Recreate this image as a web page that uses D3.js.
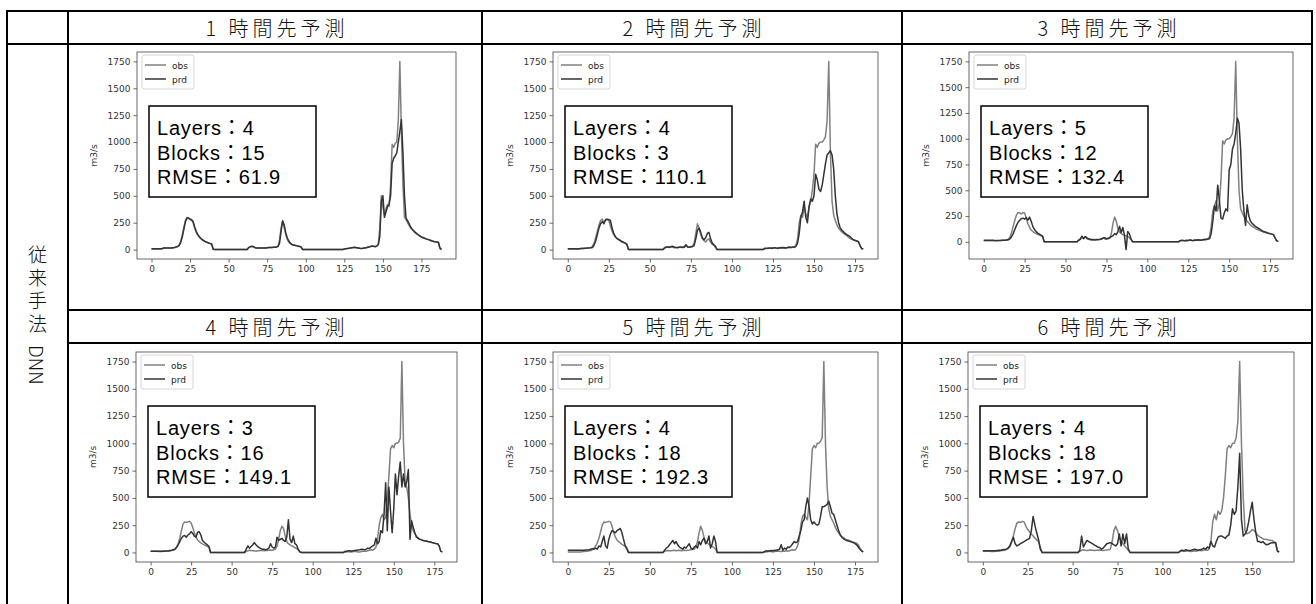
<!DOCTYPE html>
<html>
<head>
<meta charset="utf-8">
<script src="https://cdn.jsdelivr.net/npm/d3@7"></script>
<style>
  body { margin: 0; background: #fff; }
</style>
</head>
<body>
<script>
// ---------------- data ----------------
const titles = ["1 時間先予測", "2 時間先予測", "3 時間先予測", "4 時間先予測", "5 時間先予測", "6 時間先予測"];
const rowLabelJa = "従来手法";
const rowLabelEn = "DNN";
const layers = [4, 4, 5, 3, 4, 4];
const blocks = [15, 3, 12, 16, 18, 18];
const rmse = ["61.9", "110.1", "132.4", "149.1", "192.3", "197.0"];
const seriesNames = ["obs", "prd"];
const xTicks = [0, 25, 50, 75, 100, 125, 150, 175];
const yTicks = [0, 250, 500, 750, 1000, 1250, 1500, 1750];
const yLabel = "m3/s";

// lead 1h (x = 0..188)
const obs1 = [5,5,5,5,5,5,5,8, 15,15,15,15,15,15,18,20,25,
  30,45,80,140,210,270,300,290,285,280,250,200,160,135,115,100,90,80,72,66,60,56,50,
  0,0,0,0,0,0,0,0,0,0,0,0,0,0,0,0,0,0,0,0,0,0,0,
  20,28,30,25,18, 15,15,15,15,15,15,15,18,20,20,20,22,22,25,30,
  90,200,270,210,140,95,70,55,45,40,38,35,30,28,20,
  0,0,0,0,0,0,0,0,0,0,0,0,0,0,0,0,0,0,0,0,0,0,0,0,0,0,0,
  5,8,10,12,15,18,20,22,18,15,12,10,12,15,18,20,25,30,35,30,25,
  30,50,200,500,400,320,380,420,400,600,980,950,990,1000,1200,1750,1100,600,300,280,
  250,225,200,185,170,155,145,135,125,115,110,105,100,95,90,85,80,75,72,70,68,10,0];
const prd1 = [8,8,8,8,8,8,8,10, 15,15,15,15,15,15,18,20,25,
  28,40,70,120,190,260,290,295,280,275,260,210,170,140,120,105,92,82,74,68,62,58,52,
  5,0,0,0,0,0,0,0,0,0,0,0,0,0,0,0,0,0,0,0,0,0,0,
  18,25,30,28,20, 15,15,15,15,15,15,15,18,20,20,20,22,22,25,28,
  60,170,265,230,160,110,80,60,48,42,40,37,32,30,25,
  0,0,0,0,0,0,0,0,0,0,0,0,0,0,0,0,0,0,0,0,0,0,0,0,0,0,0,
  5,8,10,12,15,18,20,20,18,15,12,10,12,15,18,22,25,28,32,30,28,
  35,45,120,450,500,300,350,400,420,500,800,850,870,900,1000,1100,1210,900,500,290,
  270,240,210,190,175,160,148,138,128,118,112,106,100,95,90,85,80,76,72,70,66,15,2];

// lead 2h (x = 0..180)
const obs2 = [5,5,5,5,5,5,5,5,10,10,10,12,12,15,18,
  30,60,110,170,230,270,285,250,280,285,270,220,170,140,115,100,90,80,72,65,58,50,
  0,0,0,0,0,0,0,0,0,0,0,0,0,0,0,0,0,0,0,0,0,0,
  20,25,22,28,25,22,18,20,22,25,20,25,30,40,22,25,28,30,
  60,150,240,200,140,100,85,70,90,100,70,50,40,20,
  0,0,0,0,0,0,0,0,0,0,0,0,0,0,0,0,0,0,0,0,0,0,0,0,0,0,0,0,0,
  10,12,15,12,10,15,18,12,10,15,20,15,12,18,20,25,20,22,
  25,40,100,250,320,300,400,330,300,400,450,550,700,980,950,990,1000,1000,1020,1050,
  1200,1750,900,450,320,270,230,200,180,165,150,140,130,115,102,96,90,85,80,75,40,10,5];
const prd2 = [8,8,8,8,8,8,8,8,10,10,12,12,14,16,18,
  20,40,80,140,200,240,260,240,275,280,280,270,200,150,120,105,95,85,75,68,60,50,
  0,0,0,0,0,0,0,0,0,0,0,0,0,0,0,0,0,0,0,0,0,0,
  15,22,25,20,28,30,22,20,18,22,25,20,22,45,25,22,25,28,
  40,100,180,200,160,110,90,110,150,160,100,60,45,30,
  0,0,0,0,0,0,0,0,0,0,0,0,0,0,0,0,0,0,0,0,0,0,0,0,0,0,0,0,0,
  12,10,12,15,15,12,18,15,12,18,15,20,18,15,20,22,20,25,
  20,30,60,150,300,350,450,300,250,400,470,450,500,700,650,560,540,600,700,800,
  880,900,920,880,750,500,330,250,200,180,165,150,140,130,120,105,92,86,80,74,40,10,5];

// lead 3h (x = 0..180)
const obs3 = [10,10,10,10,10,10,10,10,10,12,12,14,15,16,18,
  25,45,90,150,210,260,285,280,270,285,280,230,175,140,115,100,90,80,72,65,58,50,
  0,0,0,0,0,0,0,0,0,0,0,0,0,0,0,0,0,0,0,0,0,
  20,30,45,35,50,30,25,20,22,20,22,25,20,22,25,40,28,25,30,35,
  80,180,240,200,130,95,80,70,65,60,50,40,20,
  0,0,0,0,0,0,0,0,0,0,0,0,0,0,0,0,0,0,0,0,0,0,0,0,0,0,0,0,0,
  10,12,15,12,10,15,18,12,10,15,20,15,12,18,20,25,20,30,
  50,150,300,350,400,300,380,600,980,950,990,1000,1000,1020,1050,1200,1750,1000,500,320,
  280,250,220,200,180,165,150,140,130,122,115,108,102,96,90,85,82,78,75,72,40,10,5];
const prd3 = [15,15,15,15,15,15,15,12,12,12,14,15,15,16,18,
  20,30,50,80,120,160,190,210,225,230,220,235,210,240,200,150,120,100,85,75,65,55,
  0,0,0,0,0,0,0,0,0,0,0,0,0,0,0,0,0,0,0,0,0,
  15,25,55,30,50,40,30,25,20,22,18,20,22,25,30,35,40,30,35,40,
  50,60,80,70,100,150,90,140,60,-75,100,80,30,
  0,0,0,0,0,0,0,0,0,0,0,0,0,0,0,0,0,0,0,0,0,0,0,0,0,0,0,0,0,
  12,15,12,10,15,12,18,15,12,18,15,20,18,15,22,20,25,28,
  30,80,200,350,300,550,400,230,220,280,320,300,700,750,900,950,1050,1200,1150,900,
  500,300,160,360,250,200,180,165,150,140,130,120,110,100,95,90,85,80,75,70,40,10,5];

// lead 4h (x = 0..180)
const obs4 = [10,10,10,10,10,8,8,8,10,10,12,12,15,18,22,
  30,50,80,130,200,260,280,275,280,285,270,230,180,140,115,100,88,78,70,62,55,50,
  0,0,0,0,0,0,0,0,0,0,0,0,0,0,0,0,0,0,0,0,0,0,
  10,15,20,18,15,15,12,15,15,18,20,15,20,18,20,22,20,25,30,
  60,120,200,240,220,150,100,80,70,60,55,45,35,25,10,
  0,0,0,0,0,0,0,0,0,0,0,0,0,0,0,0,0,0,0,0,0,0,0,0,0,0,0,
  5,5,8,5,5,8,10,8,5,5,8,10,12,10,15,20,25,20,30,
  50,120,250,320,350,300,320,500,700,950,980,960,1000,1000,1010,1050,1750,1000,650,600,
  500,350,250,200,170,150,135,125,118,112,108,104,100,96,92,88,85,82,80,60,10,5];
const prd4 = [12,12,12,12,12,12,12,12,12,14,14,15,18,20,25,
  30,45,70,100,130,150,155,140,160,170,190,175,150,140,185,190,160,110,95,80,70,55,
  0,0,0,0,0,0,0,0,0,0,0,0,0,0,0,0,0,0,0,0,0,0,
  30,60,40,55,70,90,70,55,45,35,30,30,25,30,40,80,50,40,50,
  140,110,120,130,110,100,140,300,120,90,150,80,70,30,5,
  0,0,0,0,0,0,0,0,0,0,0,0,0,0,0,0,0,0,0,0,0,0,0,0,0,0,0,
  10,12,15,15,12,15,18,20,22,25,30,28,25,30,40,35,50,60,70,
  130,80,100,200,180,350,640,200,600,380,180,400,720,530,700,830,600,720,600,650,
  760,120,290,230,180,140,130,120,115,110,108,105,100,98,95,90,85,82,80,60,10,5];

// lead 5h (x = 0..180)
const obs5 = [5,5,5,5,5,5,5,5,5,8,8,10,12,15,18,
  25,40,60,90,130,190,250,280,275,280,285,280,240,180,140,115,100,88,75,65,55,45,
  0,0,0,0,0,0,0,0,0,0,0,0,0,0,0,0,0,0,0,0,0,0,
  12,15,18,15,15,18,20,15,18,20,15,18,20,18,20,22,25,28,30,
  50,100,180,240,200,140,100,85,75,65,55,45,30,
  0,0,0,0,0,0,0,0,0,0,0,0,0,0,0,0,0,0,0,0,0,0,0,0,0,0,0,0,0,
  5,5,8,10,8,5,8,10,12,10,8,10,12,15,12,15,20,25,20,
  30,60,120,250,330,350,320,300,450,700,950,980,960,1000,1000,1020,1050,1750,1000,600,
  400,330,300,270,230,200,180,160,145,135,125,118,112,106,100,95,90,85,70,40,15,5];
const prd5 = [20,20,20,20,20,20,20,20,20,20,20,22,22,25,30,
  35,30,40,30,60,50,100,150,60,40,120,170,200,190,180,200,210,220,180,120,60,30,
  0,0,0,0,0,0,0,0,0,0,0,0,0,0,0,0,0,0,0,0,0,0,
  20,40,50,70,90,110,80,100,70,50,40,30,50,40,60,80,40,30,50,
  60,40,100,70,110,130,80,100,150,40,80,150,100,
  0,0,0,0,0,0,0,0,0,0,0,0,0,0,0,0,0,0,0,0,0,0,0,0,0,0,0,0,0,
  10,15,12,15,18,15,20,18,25,30,70,20,40,30,50,45,60,80,100,
  90,100,150,200,280,300,420,500,420,300,260,280,260,250,260,330,420,420,430,440,
  470,420,360,350,300,250,200,160,140,125,115,110,105,100,95,90,80,70,50,30,15,5];

// lead 6h (x = 0..165)
const obs6 = [10,10,10,10,10,8,8,10,10,12,15,18,20,
  25,35,50,90,150,220,270,280,275,285,280,240,210,190,170,150,130,115,100,50,
  0,0,0,0,0,0,0,0,0,0,0,0,0,0,0,0,0,0,0,0,0,
  10,20,25,20,18,20,22,20,18,20,20,22,20,18,20,22,25,30,
  100,200,240,200,140,100,80,60,40,20,
  0,0,0,0,0,0,0,0,0,0,0,0,0,0,0,0,0,0,0,0,0,0,0,0,0,0,0,0,
  10,15,12,10,15,10,8,12,15,12,18,20,15,22,25,20,30,
  100,280,350,300,380,350,380,500,700,950,980,960,1000,1000,1050,1200,1750,1000,500,200,
  170,180,190,210,200,180,160,145,135,125,120,118,115,112,110,100,90,20,5];
const prd6 = [15,15,15,15,15,15,15,15,18,20,20,25,28,
  30,40,60,100,140,80,60,70,80,90,100,110,120,130,200,330,250,180,120,30,
  0,0,0,0,0,0,0,0,0,0,0,0,0,0,0,0,0,0,0,0,0,
  20,150,50,80,110,100,90,80,70,60,50,45,30,40,60,80,85,90,
  80,70,60,80,170,60,170,80,170,30,
  0,0,0,0,0,0,0,0,0,0,0,0,0,0,0,0,0,0,0,0,0,0,0,0,0,0,0,0,
  15,20,15,25,20,18,20,25,30,25,20,25,30,40,30,50,40,
  100,60,50,100,140,150,150,140,130,150,160,250,400,350,380,600,910,300,150,170,
  200,280,380,460,300,180,100,100,90,100,80,70,75,85,90,88,90,10,3];

const obsData = [obs1, obs2, obs3, obs4, obs5, obs6];
const prdData = [prd1, prd2, prd3, prd4, prd5, prd6];

// ---------------- layout ----------------
const W = 1316, H = 604;
const colEdges = [7, 68, 482, 902, 1312];
const headRows = [[11, 44], [310, 343]];
// plot area of each panel: [left, right, top, bottom]
const axBox = [
  [137, 456, 52, 259], [553, 878, 52, 259], [969, 1293, 52, 259],
  [136, 457, 352, 562], [553, 878, 352, 562], [968, 1294, 352, 562]
];
const obsColor = "#808080", prdColor = "#333333";
const jp = "'Noto Sans CJK JP', sans-serif";
const mpl = "'DejaVu Sans', sans-serif";

const svg = d3.select("body").append("svg")
  .attr("width", W).attr("height", H)
  .style("display", "block");

svg.append("rect").attr("width", W).attr("height", H).attr("fill", "#fff");

/* ---------- panels ---------- */
function drawPanel(k) {
  const [x0, x1, y0, y1] = axBox[k];
  const obs = obsData[k], prd = prdData[k];
  const n = obs.length - 1;

  const x = d3.scaleLinear().domain([-0.05 * n, 1.05 * n]).range([x0, x1]);
  const lo = Math.min(d3.min(obs), d3.min(prd));
  const hi = Math.max(d3.max(obs), d3.max(prd));
  const pad = 0.05 * (hi - lo);
  const y = d3.scaleLinear().domain([lo - pad, hi + pad]).range([y1, y0]);

  const g = svg.append("g");
  const clipId = "clip" + k;
  g.append("clipPath").attr("id", clipId)
    .append("rect").attr("x", x0).attr("y", y0)
    .attr("width", x1 - x0).attr("height", y1 - y0);

  const line = d3.line().x((d, i) => x(i)).y(d => y(d));

  [[obs, obsColor], [prd, prdColor]].forEach(([s, c]) => {
    g.append("path").datum(s)
      .attr("d", line)
      .attr("fill", "none")
      .attr("stroke", c)
      .attr("stroke-width", 1.5)
      .attr("stroke-linejoin", "round")
      .attr("clip-path", `url(#${clipId})`);
  });

  g.append("rect")
    .attr("x", x0).attr("y", y0)
    .attr("width", x1 - x0).attr("height", y1 - y0)
    .attr("fill", "none").attr("stroke", "#444").attr("stroke-width", 0.8);

  const xa = g.append("g").attr("transform", `translate(0,${y1})`)
    .call(d3.axisBottom(x).tickValues(xTicks.filter(v => v <= n))
      .tickSize(3.5).tickPadding(3).tickFormat(d3.format("d")));
  const ya = g.append("g").attr("transform", `translate(${x0},0)`)
    .call(d3.axisLeft(y).tickValues(yTicks)
      .tickSize(3.5).tickPadding(3).tickFormat(d3.format("d")));
  [xa, ya].forEach(a => {
    a.select(".domain").remove();
    a.selectAll("line").attr("stroke", "#444").attr("stroke-width", 0.8);
    a.selectAll("text").attr("fill", "#333")
      .style("font-family", mpl).style("font-size", "9px");
  });

  g.append("text")
    .attr("transform", `translate(${x0 - 40},${(y0 + y1) / 2}) rotate(-90)`)
    .attr("text-anchor", "middle")
    .attr("fill", "#333")
    .style("font-family", mpl).style("font-size", "9px")
    .text(yLabel);

  // legend
  const lg = g.append("g").attr("transform", `translate(${x0 + 5},${y0 + 3})`);
  lg.append("rect").attr("width", 52).attr("height", 34).attr("rx", 2)
    .attr("fill", "#fff").attr("fill-opacity", 0.8)
    .attr("stroke", "#ccc").attr("stroke-width", 0.8);
  seriesNames.forEach((name, i) => {
    const ly = 10 + i * 14;
    lg.append("line").attr("x1", 3).attr("x2", 24).attr("y1", ly).attr("y2", ly)
      .attr("stroke", i === 0 ? obsColor : prdColor).attr("stroke-width", 1.5);
    lg.append("text").attr("x", 30).attr("y", ly + 3.5)
      .attr("fill", "#222")
      .style("font-family", mpl).style("font-size", "9px")
      .text(name);
  });

  // parameter box
  const bx = x0 + 12, by = y0 + 54;
  const bg = g.append("g").attr("transform", `translate(${bx},${by})`);
  bg.append("rect").attr("width", 167).attr("height", 91)
    .attr("fill", "#fff").attr("stroke", "#000").attr("stroke-width", 1.5);
  const lines = [
    `Layers：${layers[k]}`,
    `Blocks：${blocks[k]}`,
    `RMSE：${rmse[k]}`
  ];
  lines.forEach((t, i) => {
    bg.append("text").attr("x", 8).attr("y", 29 + i * 24.5)
      .attr("fill", "#000")
      .style("font-family", "'Liberation Sans', 'Noto Sans CJK JP', sans-serif")
      .style("font-size", "20px")
      .style("letter-spacing", "0.8px")
      .text(t);
  });
}

d3.range(6).forEach(drawPanel);

/* ---------- table ---------- */
const grid = svg.append("g").attr("stroke", "#000").attr("stroke-width", 2).attr("fill", "none");
colEdges.forEach(cx => {
  grid.append("line").attr("x1", cx).attr("x2", cx).attr("y1", 10).attr("y2", H);
});
grid.append("line").attr("x1", 6).attr("x2", 1313).attr("y1", 11).attr("y2", 11);
grid.append("line").attr("x1", 6).attr("x2", 1313).attr("y1", 44).attr("y2", 44);
grid.append("line").attr("x1", 68).attr("x2", 1313).attr("y1", 310).attr("y2", 310);
grid.append("line").attr("x1", 68).attr("x2", 1313).attr("y1", 343).attr("y2", 343);

titles.forEach((t, k) => {
  const c = k % 3, r = Math.floor(k / 3);
  const cx = (colEdges[c + 1] + colEdges[c + 2]) / 2;
  const cy = (headRows[r][0] + headRows[r][1]) / 2;
  svg.append("text")
    .attr("x", cx + 2).attr("y", cy)
    .attr("text-anchor", "middle")
    .attr("dominant-baseline", "central")
    .attr("fill", "#111")
    .style("font-family", jp)
    .style("font-size", "20px")
    .style("font-weight", 300)
    .style("letter-spacing", "4px")
    .text(t);
});

const vt = svg.append("text")
  .attr("x", 37.5).attr("y", 245)
  .style("writing-mode", "vertical-rl")
  .attr("fill", "#111")
  .style("font-family", jp)
  .style("font-size", "19px")
  .style("font-weight", 300);
vt.append("tspan").style("letter-spacing", "4px").text(rowLabelJa + " ");
vt.append("tspan").style("letter-spacing", "0px").text(rowLabelEn);
</script>
</body>
</html>
